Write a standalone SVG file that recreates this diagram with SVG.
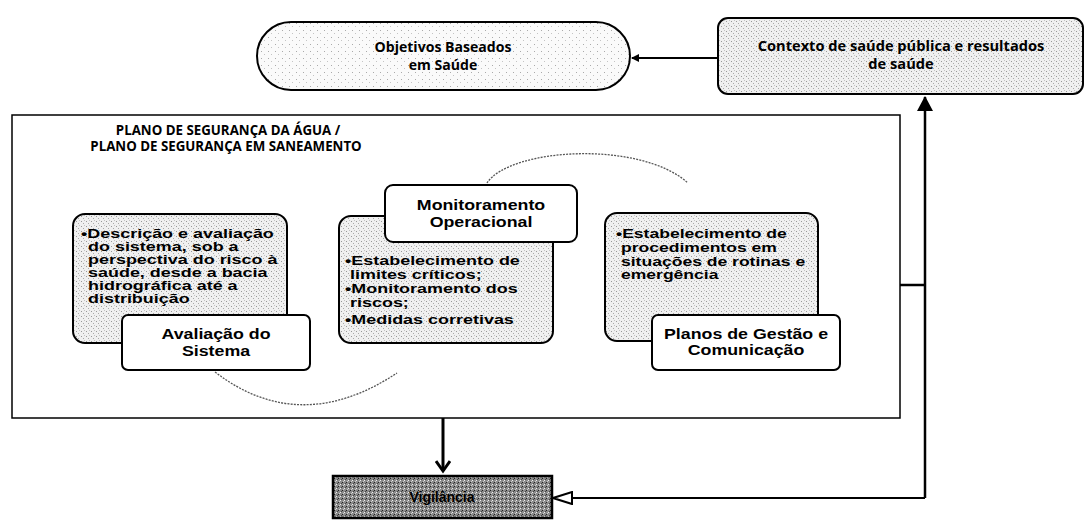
<svg xmlns="http://www.w3.org/2000/svg" width="1088" height="528" viewBox="0 0 1088 528">
<style>
.b{stroke:#000;stroke-width:2;}
.st{fill:url(#dots);}
.lab{font-family:"Liberation Sans",Arial,sans-serif;font-weight:bold;fill:#000;}
.h{font-size:14px;text-anchor:middle;}
.t{font-size:13.5px;}
.s{font-size:13.3px;text-anchor:middle;font-family:"Open Sans","Liberation Sans",sans-serif;font-weight:bold;}
.arc{fill:none;stroke:#555;stroke-width:1.3;stroke-dasharray:2 1.2;}
.con{fill:none;stroke:#000;}
</style>
<defs>
<pattern id="dots" width="5" height="5" patternUnits="userSpaceOnUse">
<rect width="5" height="5" fill="#f0f0f0"/>
<rect x="1" y="1" width="1" height="1" fill="#999"/>
<rect x="3" y="3" width="1" height="1" fill="#aaa"/>
<rect x="4" y="0" width="1" height="1" fill="#c4c4c4"/>
</pattern>
<pattern id="dots2" width="7" height="7" patternUnits="userSpaceOnUse">
<rect width="7" height="7" fill="#fafafa"/>
<rect x="2" y="2" width="1" height="1" fill="#aaa"/>
<rect x="5" y="5" width="1" height="1" fill="#c4c4c4"/>
</pattern>
<pattern id="dark" width="4" height="4" patternUnits="userSpaceOnUse">
<rect width="4" height="4" fill="#8a8a8a"/>
<rect x="0" y="0" width="1" height="1" fill="#eee"/>
<rect x="2" y="2" width="1" height="1" fill="#222"/>
<rect x="3" y="1" width="1" height="1" fill="#ccc"/>
<rect x="1" y="3" width="1" height="1" fill="#444"/>
</pattern>
<marker id="fa" markerWidth="8" markerHeight="8" refX="7" refY="4" orient="auto" markerUnits="userSpaceOnUse">
<path d="M0,0 L8,4 L0,8 Z" fill="#000"/>
</marker>
<marker id="up" markerWidth="16" markerHeight="16" refX="14" refY="8" orient="auto" markerUnits="userSpaceOnUse">
<path d="M0,0 L15,8 L0,16 Z" fill="#000"/>
</marker>
<marker id="open" markerWidth="22" markerHeight="14" refX="20" refY="7" orient="auto" markerUnits="userSpaceOnUse">
<path d="M1,1 L20,7 L1,13 Z" fill="#fff" stroke="#000" stroke-width="2"/>
</marker>
<marker id="vee" markerWidth="16" markerHeight="16" refX="12" refY="8" orient="auto" markerUnits="userSpaceOnUse">
<path d="M2,1 L12,8 L2,15" fill="none" stroke="#000" stroke-width="3"/>
</marker>
</defs>

<g id="plano">
<rect x="12" y="115" width="888" height="303" fill="#fff" stroke="#000" stroke-width="1.5"/>
<text class="lab s" x="228" y="135">PLANO DE SEGURANÇA DA ÁGUA /</text>
<text class="lab s" x="226" y="151">PLANO DE SEGURANÇA EM SANEAMENTO</text>
</g>

<g id="connectors">
<path class="arc" d="M487,183 C510,148 640,140 688,183"/>
<path class="arc" d="M215,372 Q300,437 397,373"/>
<line class="con" x1="718" y1="58" x2="632" y2="58" stroke-width="2" marker-end="url(#fa)"/>
<polyline class="con" points="900,285 925,285" stroke-width="2.5"/>
<polyline class="con" points="925,498 925,97" stroke-width="2.5" marker-end="url(#up)"/>
<polyline class="con" points="925,498 553,498" stroke-width="2" marker-end="url(#open)"/>
<line class="con" x1="443" y1="418" x2="443" y2="471" stroke-width="3" marker-end="url(#vee)"/>
</g>

<g id="objetivos">
<rect x="257" y="22" width="373" height="68" rx="34" fill="url(#dots2)" class="b"/>
<text class="lab s" transform="translate(443,52) scale(1.06,1)">Objetivos Baseados</text>
<text class="lab s" transform="translate(443,70) scale(1.06,1)">em Saúde</text>
</g>

<g id="contexto">
<rect x="718" y="18" width="365" height="76" rx="10" class="b st"/>
<text class="lab s" transform="translate(901,51) scale(1.1,1)">Contexto de saúde  pública e  resultados</text>
<text class="lab s" transform="translate(901,69) scale(1.1,1)">de saúde</text>
</g>

<g id="avaliacao">
<rect x="73" y="214" width="214" height="129" rx="12" class="b st"/>
<g class="lab t">
<text transform="translate(81,238) scale(1.33,1)">•Descrição e avaliação</text>
<text transform="translate(88,251) scale(1.33,1)">do sistema, sob a</text>
<text transform="translate(88,264) scale(1.33,1)">perspectiva do risco à</text>
<text transform="translate(88,277) scale(1.33,1)">saúde, desde a bacia</text>
<text transform="translate(88,290) scale(1.33,1)">hidrográfica até a</text>
<text transform="translate(88,303) scale(1.33,1)">distribuição</text>
</g>
<rect x="122" y="315" width="188" height="55" rx="6" fill="#fff" class="b"/>
<text class="lab h" transform="translate(216,339) scale(1.27,1)">Avaliação do</text>
<text class="lab h" transform="translate(216,356) scale(1.27,1)">Sistema</text>
</g>

<g id="monitoramento">
<rect x="339" y="216" width="214" height="127" rx="12" class="b st"/>
<g class="lab t">
<text transform="translate(345,265) scale(1.33,1)">•Estabelecimento de</text>
<text transform="translate(350,279) scale(1.33,1)">limites críticos;</text>
<text transform="translate(345,293) scale(1.33,1)">•Monitoramento dos</text>
<text transform="translate(350,307) scale(1.33,1)">riscos;</text>
<text transform="translate(345,324) scale(1.33,1)">•Medidas corretivas</text>
</g>
<rect x="385" y="185" width="192" height="57" rx="8" fill="#fff" class="b"/>
<text class="lab h" transform="translate(481,210) scale(1.27,1)">Monitoramento</text>
<text class="lab h" transform="translate(481,227) scale(1.27,1)">Operacional</text>
</g>

<g id="planos">
<rect x="605" y="213" width="213" height="128" rx="12" class="b st"/>
<g class="lab t">
<text transform="translate(616,238) scale(1.3,1)">•Estabelecimento de</text>
<text transform="translate(621,252) scale(1.3,1)">procedimentos em</text>
<text transform="translate(621,266) scale(1.3,1)">situações de rotinas e</text>
<text transform="translate(621,279) scale(1.3,1)">emergência</text>
</g>
<rect x="652" y="315" width="188" height="55" rx="6" fill="#fff" class="b"/>
<text class="lab h" transform="translate(746,339) scale(1.27,1)">Planos de Gestão e</text>
<text class="lab h" transform="translate(746,355) scale(1.27,1)">Comunicação</text>
</g>

<g id="vigilancia">
<rect x="333" y="476" width="219" height="42" fill="url(#dark)" stroke="#000" stroke-width="2.5"/>
<text class="lab" x="442" y="502" font-size="14" text-anchor="middle" fill="#1a1a1a">Vigilância</text>
</g>
</svg>
